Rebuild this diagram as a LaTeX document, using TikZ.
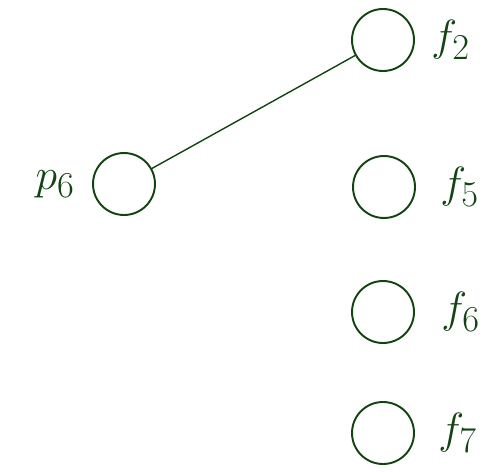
\documentclass[tikz,border=0pt]{standalone}
\usepackage{tikz}
\usetikzlibrary{positioning}
\definecolor{darkgreen}{RGB}{18,68,18}

\begin{document}
\begin{tikzpicture}[x=0.02cm,y=0.02cm,
    var/.style={circle,draw=darkgreen,line width=1.1pt,minimum size=1.24cm,inner sep=0pt},
    lbl/.style={text=darkgreen,inner sep=0pt,font=\fontsize{32}{38}\selectfont}]
  \useasboundingbox (0,0) rectangle (492,471);
  % variables
  \node[var] (p6) at (124,287) {};
  \node[var] (f2) at (383,431) {};
  \node[var] (f5) at (384,284) {};
  \node[var] (f6) at (383,159) {};
  \node[var] (f7) at (383,38) {};

  % labels
  \node[lbl] (lp6) [left=0.34cm of p6] {$p_6$};
  \node[lbl] (lf2) [right=0.32cm of f2] {$f_2$};
  \node[lbl] (lf5) [right=0.48cm of f5] {$f_5$};
  \node[lbl] (lf6) [right=0.52cm of f6] {$f_6$};
  \node[lbl] (lf7) [right=0.46cm of f7] {$f_7$};

  % edge
  \draw[darkgreen,line width=0.8pt] (p6) -- (f2);
\end{tikzpicture}
\end{document}
